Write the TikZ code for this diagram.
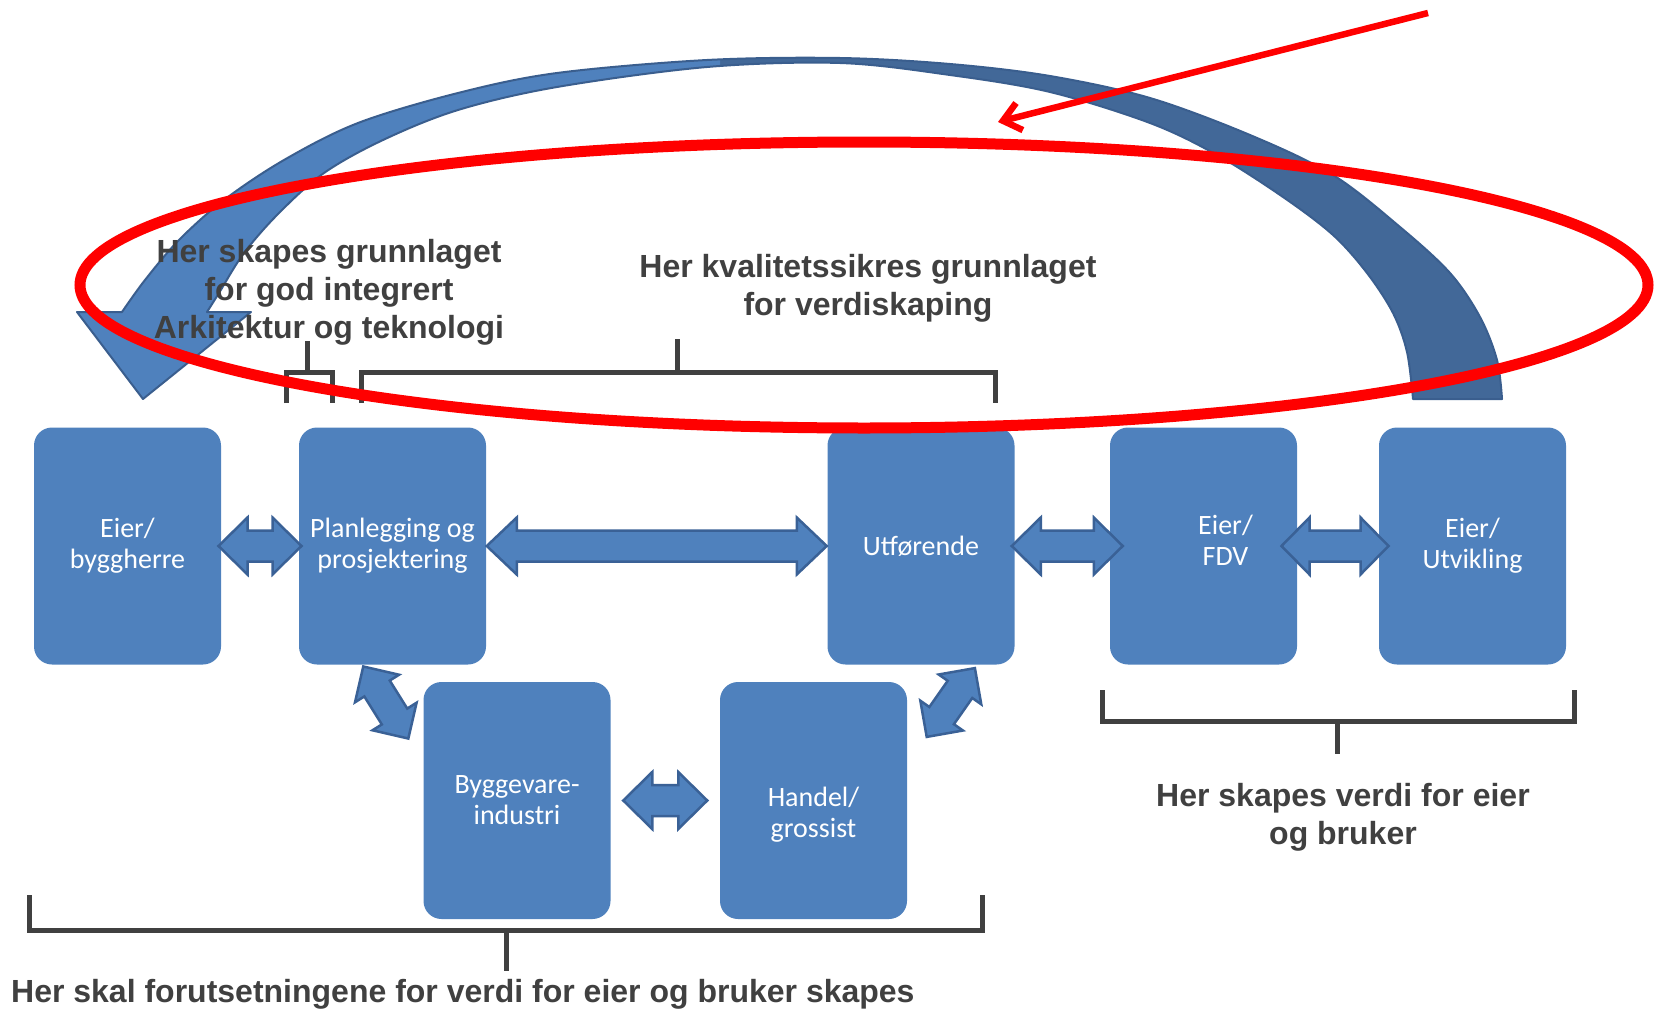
\documentclass[tikz,border=0pt]{standalone}
\usepackage{fontspec}
\setmainfont{Liberation Sans}
\newfontfamily\calloutfont{Liberation Sans}
\newfontfamily\boxfont{Carlito}
\usetikzlibrary{arrows.meta,calc}

\definecolor{boxblue}{HTML}{4F81BD}
\definecolor{arrowrim}{HTML}{3A6196}
\definecolor{curvelight}{HTML}{4F81BD}
\definecolor{curvedark}{HTML}{426898}
\definecolor{curverim}{HTML}{3A5E8E}
\definecolor{bracketgray}{HTML}{404040}
\definecolor{textgray}{HTML}{404040}
\definecolor{markred}{HTML}{FF0000}

% two-headed block arrow centred on the pic origin:
% #1 half length, #2 head length, #3 head half-width, #4 shaft half-width
\tikzset{
  pics/dblarrow/.style n args={4}{code={
    \filldraw[fill=boxblue, draw=arrowrim, line width=2.5pt, line join=miter]
      (-#1,0) -- ({-#1+#2},#3) -- ({-#1+#2},#4) -- ({#1-#2},#4) -- ({#1-#2},#3)
      -- (#1,0) -- ({#1-#2},-#3) -- ({#1-#2},-#4) -- ({-#1+#2},-#4)
      -- ({-#1+#2},-#3) -- cycle;
  }}
}

\begin{document}
\begin{tikzpicture}[x=1pt,y=-1pt,
  box/.style={fill=boxblue, rounded corners=18pt, minimum width=187pt,
    minimum height=237pt, inner sep=0pt},
  boxtext/.style={text=white, font=\boxfont\fontsize{28}{31}\selectfont,
    align=center, inner sep=0pt},
  callout/.style={text=textgray, font=\calloutfont\bfseries\fontsize{32}{38}\selectfont,
    align=center, inner sep=0pt},
  bracket/.style={draw=bracketgray, line width=5pt},
  bigcurve/.style={insert path={
    (1413,399) -- (1502,399)
    -- plot[smooth, tension=0.55] coordinates {(1502,399) (1497,360) (1480,317)
       (1450,273) (1400,227) (1333,175) (1250,135) (1150,98) (1050,76) (950,64)
       (840,58) (707,60) (557,73) (458,93) (358,123) (284,160) (224,200)
       (179,240) (145,280) (122,312)}
    -- (77,312) -- (143,399) -- (251,312) -- (207,312)
    -- plot[smooth, tension=0.55] coordinates {(207,312) (219,293) (244,253)
       (279,213) (324,173) (383,140) (458,110) (557,87) (707,67) (840,63)
       (950,75) (1050,92) (1150,123) (1217,155) (1283,197) (1333,235) (1367,273)
       (1393,313) (1407,352) (1413,399)}
    -- cycle}}
]
\useasboundingbox (0,0) rectangle (1655,1009);

% curved feedback arrow: dark back part, lighter front part
\fill[curvedark, bigcurve];
\begin{scope}
  \clip (0,0) rectangle (720,1009);
  \fill[curvelight, bigcurve];
\end{scope}
\draw[curverim, line width=2pt, line join=round, bigcurve];

% explanatory texts (anchored on the baseline of their last line)
\node[callout, anchor=base] (txtgrunn) at (329,338)
  {Her skapes grunnlaget\\for god integrert\\Arkitektur og teknologi};
\node[callout, anchor=base] (txtkval) at (868,315)
  {Her kvalitetssikres grunnlaget\\for verdiskaping};
\node[callout, anchor=base] (txtverdi) at (1343,844)
  {Her skapes verdi for eier\\og bruker};
\node[callout, anchor=base west] (txtforut) at (11,1002)
  {Her skal forutsetningene for verdi for eier og bruker skapes};

% brackets
\draw[bracket] (286,403) -- (286,372) -- (332,372) -- (332,403);
\draw[bracket] (307,372) -- (307,341);
\draw[bracket] (361,403) -- (361,372) -- (995,372) -- (995,403);
\draw[bracket] (677,372) -- (677,339);
\draw[bracket] (1102,690) -- (1102,721) -- (1574,721) -- (1574,690);
\draw[bracket] (1337,721) -- (1337,754);
\draw[bracket] (29,895) -- (29,930) -- (982,930) -- (982,895);
\draw[bracket] (506,930) -- (506,971);

% actors
\node[box, boxtext] (eier)  at (127.5,546) {Eier/\\byggherre};
\node[box, boxtext] (plan)  at (392.5,546) {Planlegging og\\prosjektering};
\node[box, boxtext] (utf)   at (921,546)   {Utførende};
\node[box] (fdv)            at (1203.5,546) {};
\node[boxtext] (fdvtext) at ([shift={(22,-6)}]fdv.center) {Eier/\\FDV};
\node[box, boxtext] (utv)   at (1472.5,546) {Eier/\\Utvikling};
\node[box, boxtext] (bygg)  at (517,800.5) {Byggevare-\\industri};
\node[box] (handel)         at (813.5,800.5) {};
\node[boxtext] (handeltext) at ([shift={(0,14)}]handel.center) {Handel/\\grossist};

% two-way block arrows between actors
\pic (eierplan)   at ($(eier.east)!0.5!(plan.west)$)        {dblarrow={41.5}{29}{28.5}{15.5}};
\pic (planutf)    at ($(plan.east)!0.5!(utf.west)$)         {dblarrow={170}{30}{28.5}{15.5}};
\pic (utffdv)     at ($(utf.east)!0.5!(fdv.west)+(5,0)$)    {dblarrow={55.5}{29}{28.5}{15.5}};
\pic (fdvutv)     at ($(fdv.east)!0.5!(utv.west)+(-3,0)$)   {dblarrow={53.5}{28}{28.5}{15.5}};
\pic (bygghandel) at ($(bygg.east)!0.5!(handel.west)$)      {dblarrow={42}{29}{28.5}{15.5}};
\pic[rotate=-58] (planbygg)  at (385.8,702.5) {dblarrow={42.5}{26}{26}{15}};
\pic[rotate=55]  (handelutf) at (950.8,702.5) {dblarrow={42}{26}{26}{15}};

% red emphasis
\coordinate (redstart) at (1428,13);
\coordinate (redtip) at (998,122);
\draw[markred, line width=6.5pt, -{Straight Barb[length=17pt,width=28pt]}] (redstart) -- (redtip);
\draw[markred, line width=11pt] (864,285) ellipse [x radius=784, y radius=143];
\end{tikzpicture}
\end{document}
